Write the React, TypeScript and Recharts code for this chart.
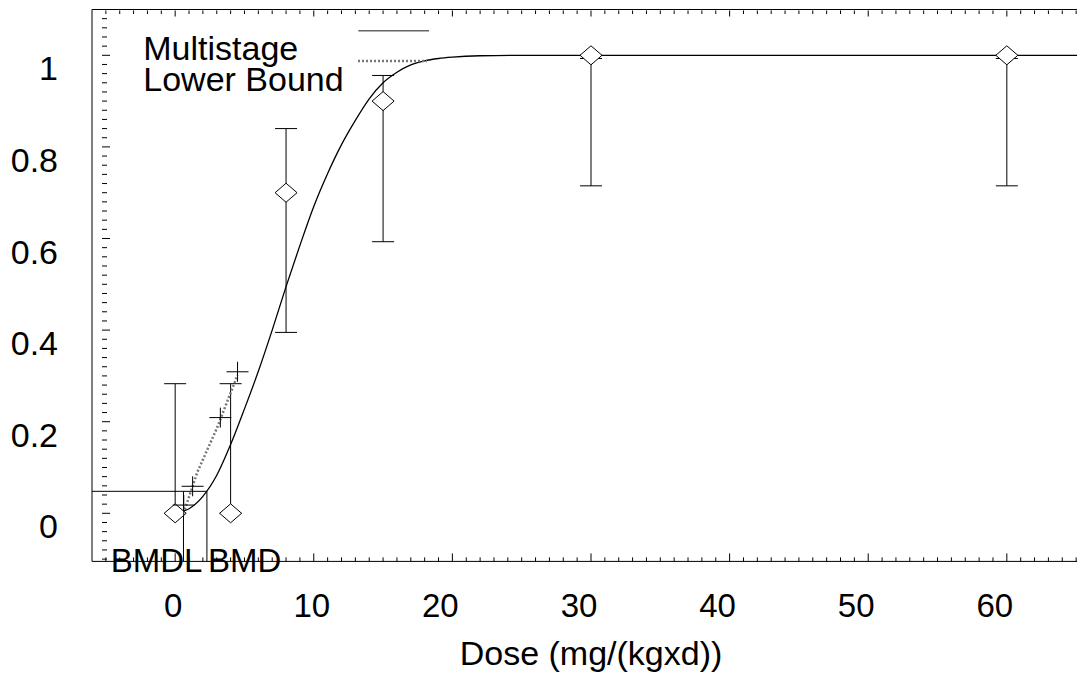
import React from "react"
import { ComposedChart, Line, Scatter, ErrorBar, XAxis, YAxis, ReferenceLine } from "recharts"

// observed dose groups (fraction affected, with confidence limits)
const doses = [0, 4, 8, 15, 30, 60]
const fractions = [0, 0, 0.7, 0.9, 1.0, 1.0]
const lowerCI = [0, 0, 0.395, 0.593, 0.715, 0.715]
const upperCI = [0.283, 0.283, 0.84, 0.956, 0.993, 0.993]

// multistage fit
const fitDoses = [0, 1, 2, 3, 4, 5, 6, 7, 8, 9, 10, 11, 12, 13, 14, 15, 16, 17, 18, 19, 20, 22, 25, 66]
const fitValues = [0, 0.01, 0.037, 0.083, 0.15, 0.228, 0.31, 0.4, 0.495, 0.585, 0.67, 0.742, 0.805, 0.858, 0.905, 0.94, 0.963, 0.979, 0.988, 0.993, 0.996, 0.999, 1.0, 1.0]

// lower bound line and its markers
const lbDoses = [0.6, 1.6, 3.0, 4.5]
const lbValues = [0, 0.09, 0.185, 0.302]
const crossDoses = [0.62, 1.26, 3.26, 4.5]
const crossValues = [0.018, 0.059, 0.209, 0.309]

const bmr = 0.048
const bmd = 2.29
const bmdl = 0.6

const xMajor = [0, 10, 20, 30, 40, 50, 60]
const yMajor = [0, 0.2, 0.4, 0.6, 0.8, 1]
const yLabels = ["0", "0.2", "0.4", "0.6", "0.8", "1"]

const xMinor = Array.from({ length: 72 }, (_, i) => i - 5)
const yMinor = Array.from({ length: 61 }, (_, i) => Math.round((-0.1 + i * 0.02) * 100) / 100)

const FONT = "Liberation Sans, Arial, Helvetica, sans-serif"

const obsData = doses.map((d, i) => ({
  dose: d,
  p: fractions[i],
  err: [fractions[i] - lowerCI[i], upperCI[i] - fractions[i]],
}))
const fitData = fitDoses.map((d, i) => ({ dose: d, p: fitValues[i] }))
const lbData = lbDoses.map((d, i) => ({ dose: d, p: lbValues[i] }))
const crossData = crossDoses.map((d, i) => ({ dose: d, p: crossValues[i] }))

const Diamond = (props: any) => {
  const { cx, cy } = props
  return (
    <path
      d={`M${cx},${cy - 9.5} L${cx + 11},${cy} L${cx},${cy + 9.5} L${cx - 11},${cy} Z`}
      fill="#fff"
      stroke="#000"
      strokeWidth={1}
    />
  )
}

const Cross = (props: any) => {
  const { cx, cy } = props
  return (
    <g stroke="#000" strokeWidth={1}>
      <line x1={cx - 11} x2={cx + 11} y1={cy} y2={cy} />
      <line x1={cx} x2={cx} y1={cy - 10} y2={cy + 10} />
    </g>
  )
}

const BottomTick = (props: any) => {
  const { x, y, payload } = props
  const major = xMajor.includes(payload.value)
  return (
    <g>
      <line x1={x} x2={x} y1={y} y2={y - (major ? 8 : 4)} stroke="#000" />
      {major && (
        <text
          x={x + (payload.value < 20 ? -2 : -12)}
          y={y + 56}
          textAnchor="middle"
          fontSize={33}
          fontFamily={FONT}
          fill="#000"
        >
          {payload.value}
        </text>
      )}
    </g>
  )
}

const TopTick = (props: any) => {
  const { x, y, payload } = props
  const major = xMajor.includes(payload.value)
  return <line x1={x} x2={x} y1={y + 1} y2={y + 1 + (major ? 6 : 3.5)} stroke="#000" />
}

const LeftTick = (props: any) => {
  const { x, y, payload } = props
  const i = yMajor.findIndex((v) => Math.abs(v - payload.value) < 1e-6)
  return (
    <g>
      <line x1={x + 10} x2={x + 10 + (i >= 0 ? 8 : 5)} y1={y} y2={y} stroke="#000" />
      {i >= 0 && (
        <text x={x - 34} y={y + 25} textAnchor="end" fontSize={34} fontFamily={FONT} fill="#000">
          {yLabels[i]}
        </text>
      )}
    </g>
  )
}

const refText = (p: any, text: string, anchor: string, dx: number) => {
  const vb = p.viewBox || {}
  const x = vb.x ?? 0
  const bottom = (vb.y ?? 0) + (vb.height ?? 0)
  return (
    <text x={x + dx} y={bottom + 11} textAnchor={anchor} fontSize={33} fontFamily={FONT} fill="#000">
      {text}
    </text>
  )
}

export default function App() {
  return (
    <div style={{ position: "relative", width: 1077, height: 664, overflow: "hidden" }}>
      <ComposedChart width={1082} height={664} margin={{ top: 0.5, right: 0, left: 0, bottom: 109.6 }}>
        <XAxis
          dataKey="dose"
          type="number"
          domain={[-6, 66]}
          allowDataOverflow
          ticks={xMinor}
          interval={0}
          height={1}
          tickSize={0}
          tickMargin={0}
          tickLine={false}
          tick={<BottomTick />}
          axisLine={{ stroke: "#000" }}
        />
        <XAxis
          xAxisId="top"
          orientation="top"
          dataKey="dose"
          type="number"
          domain={[-6, 66]}
          allowDataOverflow
          ticks={xMinor}
          interval={0}
          height={1}
          tickSize={0}
          tickMargin={0}
          tickLine={false}
          tick={<TopTick />}
          axisLine={{ stroke: "#000" }}
        />
        <YAxis
          type="number"
          domain={[-0.105, 1.1]}
          allowDataOverflow
          ticks={yMinor}
          interval={0}
          width={84}
          tickSize={0}
          tickMargin={0}
          tickLine={false}
          tick={<LeftTick />}
          axisLine={{ stroke: "#000" }}
        />
        <ReferenceLine segment={[{ x: -6, y: bmr }, { x: bmd, y: bmr }]} stroke="#000" strokeWidth={1} />
        <ReferenceLine
          segment={[{ x: bmd, y: -0.105 }, { x: bmd, y: bmr }]}
          stroke="#000"
          strokeWidth={1}
          label={(p: any) => refText(p, "BMD", "start", 1)}
        />
        <ReferenceLine
          segment={[{ x: bmdl, y: -0.105 }, { x: bmdl, y: bmr }]}
          stroke="#000"
          strokeWidth={1}
          label={(p: any) => refText(p, "BMDL", "end", 19)}
        />
        <Scatter data={obsData} dataKey="p" shape={<Diamond />} isAnimationActive={false}>
          <ErrorBar dataKey="err" direction="y" width={11} stroke="#000" strokeWidth={1} />
        </Scatter>
        <Line
          data={lbData}
          dataKey="p"
          type="linear"
          stroke="#777"
          strokeWidth={2.5}
          strokeDasharray="2 2"
          dot={false}
          isAnimationActive={false}
        />
        <Scatter data={crossData} dataKey="p" shape={<Cross />} isAnimationActive={false} />
        <Line
          data={fitData}
          dataKey="p"
          type="monotone"
          stroke="#000"
          strokeWidth={1.3}
          dot={false}
          isAnimationActive={false}
        />
      </ComposedChart>
      <svg
        width={1077}
        height={664}
        style={{ position: "absolute", left: 0, top: 0, pointerEvents: "none" }}
        fontFamily={FONT}
      >
        <text x={135.3} y={52} fontSize={34} fill="#000">Multistage</text>
        <text x={135.3} y={82.7} fontSize={34} fill="#000">Lower Bound</text>
        <line x1={350.3} x2={421} y1={22.7} y2={22.7} stroke="#666" strokeWidth={1.5} />
        <line x1={350} x2={419} y1={53} y2={53} stroke="#777" strokeWidth={2.5} strokeDasharray="2 2" />
        <text x={583} y={657} fontSize={34} textAnchor="middle" fill="#000">Dose (mg/(kgxd))</text>
      </svg>
    </div>
  )
}
